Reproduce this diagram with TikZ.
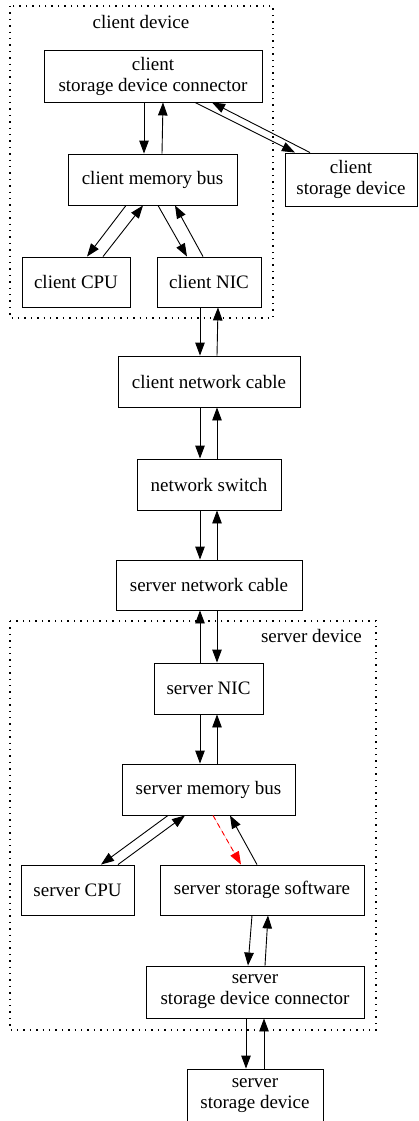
\documentclass[tikz,border=0pt]{standalone}
\usepackage{fontspec}
\setmainfont{Liberation Serif}
\usetikzlibrary{arrows.meta}
\begin{document}
\begin{tikzpicture}[x=1pt,y=-1pt,
  every node/.style={font=\fontsize{19}{21}\selectfont},
  box/.style={draw, line width=0.9pt, align=center, inner sep=0pt, fill=white},
  edge/.style={line width=0.9pt, -{Triangle[length=13pt,width=9.5pt]}},
  redge/.style={edge, draw=red, fill=red, dash pattern=on 5pt off 4pt},
  cluster/.style={draw, line width=1.1pt, dash pattern=on 1.4pt off 5pt},
  lbl/.style={inner sep=0pt}]
\useasboundingbox (0,0) rectangle (418,1121);
% clusters
\draw[cluster] (10,6) rectangle (273,318);
\node[lbl] (cdl) at (141,22) {client device};
\draw[cluster] (10,621) rectangle (376,1030);
\node[lbl, anchor=east] (sdl) at (362,636) {server device};
% nodes
\node[box, minimum width=218pt, minimum height=52pt] (csdc) at (153,76) {client\\storage device connector};
\node[box, minimum width=169pt, minimum height=51pt] (cmb) at (152.5,179.5) {client memory bus};
\node[box, minimum width=108pt, minimum height=50pt] (ccpu) at (76,282) {client CPU};
\node[box, minimum width=104pt, minimum height=50pt] (cnic) at (209,282) {client NIC};
\node[box, minimum width=132pt, minimum height=53pt] (csd) at (351,179.5) {client\\storage device};
\node[box, minimum width=182pt, minimum height=51pt] (cnc) at (209,381.5) {client network cable};
\node[box, minimum width=144pt, minimum height=51pt] (nsw) at (209,484.5) {network switch};
\node[box, minimum width=186pt, minimum height=50pt] (snc) at (209,585) {server network cable};
\node[box, minimum width=109pt, minimum height=51pt] (snic) at (208.5,688.5) {server NIC};
\node[box, minimum width=173pt, minimum height=51pt] (smb) at (208.5,789.5) {server memory bus};
\node[box, minimum width=113pt, minimum height=50pt] (scpu) at (77.5,890) {server CPU};
\node[box, minimum width=204pt, minimum height=50pt] (sss) at (262,890) {server storage software};
\node[box, minimum width=218pt, minimum height=52pt] (ssdc) at (255,992) {server\\storage device connector};
\node[box, minimum width=136pt, minimum height=54pt] (ssd) at (255,1096) {server\\storage device};
% edges client
\draw[edge] ([xshift=-9pt]csdc.south) -- ([xshift=-8.5pt]cmb.north);
\draw[edge] ([xshift=9.5pt]cmb.north) -- ([xshift=10pt]csdc.south);
\draw[edge] ([xshift=42pt]csdc.south) -- ([xshift=-56pt]csd.north);
\draw[edge] ([xshift=-41pt]csd.north) -- ([xshift=59pt]csdc.south);
\draw[edge] ([xshift=-26.5pt]cmb.south) -- ([xshift=11pt]ccpu.north);
\draw[edge] ([xshift=27pt]ccpu.north) -- ([xshift=-9.5pt]cmb.south);
\draw[edge] ([xshift=5.5pt]cmb.south) -- ([xshift=-22pt]cnic.north);
\draw[edge] ([xshift=-6pt]cnic.north) -- ([xshift=22.5pt]cmb.south);
% edges network
\draw[edge] ([xshift=-9pt]cnic.south) -- ([xshift=-9pt]cnc.north);
\draw[edge] ([xshift=8pt]cnc.north) -- ([xshift=9pt]cnic.south);
\draw[edge] ([xshift=-9pt]cnc.south) -- ([xshift=-9pt]nsw.north);
\draw[edge] ([xshift=8pt]nsw.north) -- ([xshift=8pt]cnc.south);
\draw[edge] ([xshift=-9pt]nsw.south) -- ([xshift=-9pt]snc.north);
\draw[edge] ([xshift=8pt]snc.north) -- ([xshift=8pt]nsw.south);
\draw[edge] ([xshift=-8.5pt]snic.north) -- ([xshift=-9pt]snc.south);
\draw[edge] ([xshift=8pt]snc.south) -- ([xshift=8.5pt]snic.north);
% edges server
\draw[edge] ([xshift=-8.5pt]snic.south) -- ([xshift=-8.5pt]smb.north);
\draw[edge] ([xshift=8.5pt]smb.north) -- ([xshift=8.5pt]snic.south);
\draw[edge] ([xshift=-40.5pt]smb.south) -- ([xshift=23.5pt]scpu.north);
\draw[edge] ([xshift=40.5pt]scpu.north) -- ([xshift=-23.5pt]smb.south);
\draw[redge] ([xshift=4.5pt]smb.south) -- ([xshift=-21pt]sss.north);
\draw[edge] ([xshift=-5pt]sss.north) -- ([xshift=21.5pt]smb.south);
\draw[edge] ([xshift=-10pt]sss.south) -- ([xshift=-7pt]ssdc.north);
\draw[edge] ([xshift=10pt]ssdc.north) -- ([xshift=6pt]sss.south);
\draw[edge] ([xshift=-9pt]ssdc.south) -- ([xshift=-9pt]ssd.north);
\draw[edge] ([xshift=9pt]ssd.north) -- ([xshift=9pt]ssdc.south);
\end{tikzpicture}
\end{document}
